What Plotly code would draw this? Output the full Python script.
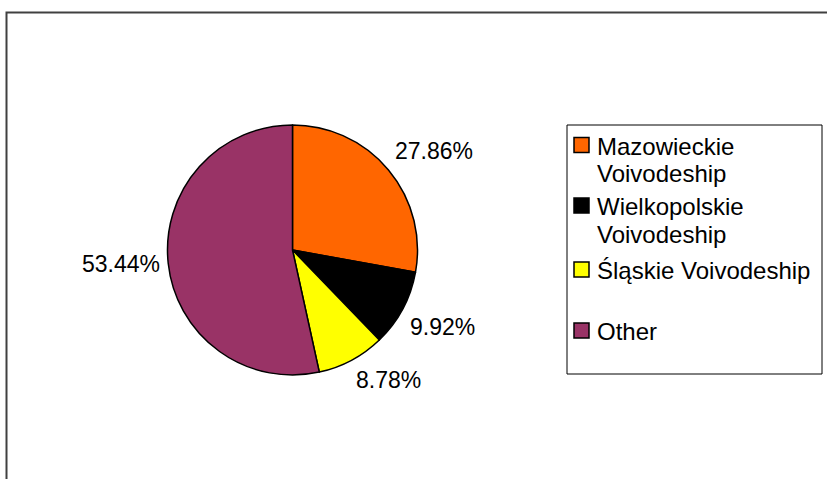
import math
import plotly.graph_objects as go

labels = ["Mazowieckie Voivodeship", "Wielkopolskie Voivodeship", "Śląskie Voivodeship", "Other"]
legend_lines = [["Mazowieckie", "Voivodeship"], ["Wielkopolskie", "Voivodeship"], ["Śląskie Voivodeship"], ["Other"]]
values = [27.86, 9.92, 8.78, 53.44]
colors = ["#FF6600", "#000000", "#FFFF00", "#993366"]

W, H = 827, 479
FONT = "Liberation Sans, Arial"
cx, cy, r = 292.5, 250, 125


def px(x):
    return x / W


def py(y):
    return 1 - y / H


fig = go.Figure(go.Pie(
    labels=labels,
    values=values,
    sort=False,
    direction="clockwise",
    rotation=0,
    marker=dict(colors=colors, line=dict(color="#000000", width=1.5)),
    textinfo="none",
    domain=dict(x=[px(cx - r), px(cx + r)], y=[py(cy + r), py(cy - r)]),
    hoverinfo="label+percent",
    showlegend=False,
))

annotations = []

# percentage labels placed just outside each slice, along the slice's mid angle
total = sum(values)
cum = 0.0
label_gap = 6
for v in values:
    mid = (cum + v / 2) / total
    cum += v
    th = 2 * math.pi * mid
    dx, dy = math.sin(th), -math.cos(th)  # screen coords (y down)
    R = r + label_gap
    ax, ay = cx + R * dx, cy + R * dy
    xa = "left" if dx > 0.2 else ("right" if dx < -0.2 else "center")
    ya = "bottom" if dy < -0.3 else ("top" if dy > 0.3 else "middle")
    annotations.append(dict(xref="paper", yref="paper", x=px(ax), y=py(ay),
                            xanchor=xa, yanchor=ya, text=f"{v / total * 100:.2f}%",
                            showarrow=False, font=dict(family=FONT, size=23, color="#000000")))

shapes = [
    # outer chart-area border (extends past right/bottom of the view)
    dict(type="rect", xref="paper", yref="paper",
         x0=px(6.5), x1=1.05, y0=-0.05, y1=py(12.5),
         line=dict(color="#404040", width=2), fillcolor="rgba(0,0,0,0)"),
    # legend box
    dict(type="rect", xref="paper", yref="paper",
         x0=px(567), x1=px(822), y0=py(374), y1=py(125),
         line=dict(color="#000000", width=1), fillcolor="#FFFFFF"),
]

entry_top = [145, 205.5, 269.5, 330.5]  # vertical centre of each entry's first line
line_gap = 27.5
for lines, col, yc in zip(legend_lines, colors, entry_top):
    shapes.append(dict(type="rect", xref="paper", yref="paper",
                       x0=px(574), x1=px(589), y0=py(yc + 7.5), y1=py(yc - 7.5),
                       line=dict(color="#000000", width=1.5), fillcolor=col))
    for i, t in enumerate(lines):
        annotations.append(dict(xref="paper", yref="paper", x=px(595), y=py(yc + 1 + i * line_gap),
                                xanchor="left", yanchor="middle", text=t, showarrow=False,
                                font=dict(family=FONT, size=24, color="#000000")))

fig.update_layout(
    width=W, height=H,
    margin=dict(l=0, r=0, t=0, b=0),
    paper_bgcolor="#FFFFFF",
    font=dict(family=FONT, color="#000000"),
    showlegend=False,
    shapes=shapes,
    annotations=annotations,
)

fig.write_html("out.html", config={"displayModeBar": False},
               post_script="document.body.style.margin='0px';")
